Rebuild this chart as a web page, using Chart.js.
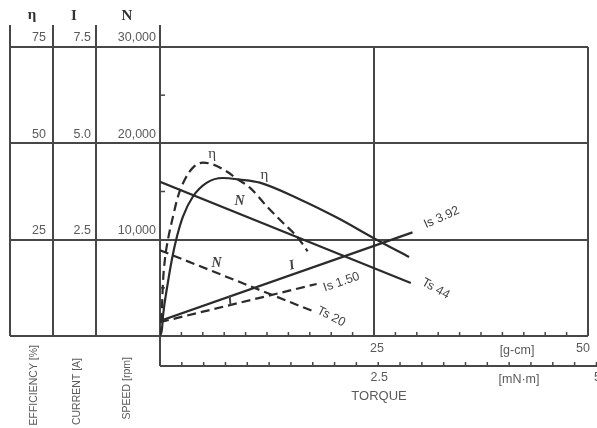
<!DOCTYPE html>
<html>
<head>
<meta charset="utf-8">
<script src="https://cdn.jsdelivr.net/npm/chart.js@4/dist/chart.umd.min.js"></script>
<style>
  html, body { margin: 0; padding: 0; background: #fff; }
</style>
</head>
<body>
<canvas id="chart" width="597" height="428"></canvas>
<script>
// torque in g-cm
const torqueA = [0, 29.3];
const speedA = [16000, 5500];            // rpm, Ts 44
const currentTorqueA = [0, 29.5];
const currentA = [0.39, 2.69];           // A, Is 3.92
const effTorqueA = [0, 0.23, 0.35, 0.93, 1.4, 1.98, 2.68, 3.85, 5.48, 7.34, 9.32, 11.66, 16.3, 20.6, 25.3, 29.1];
const effA = [0, 1.8, 5.2, 14, 20, 25.8, 31, 36.2, 39.8, 41, 40.6, 39.8, 35.5, 30.8, 25, 20.5];

const torqueB = [0, 17.8];
const speedB = [8900, 2600];             // rpm, Ts 20
const currentTorqueB = [0, 18.3];
const currentB = [0.36, 1.35];           // A, Is 1.50
const effTorqueB = [0, 0.23, 0.35, 0.58, 0.93, 1.52, 2.1, 2.9, 3.85, 5.0, 6.2, 7.8, 9.0, 10.5, 12.5, 14.3, 16.0, 17.25];
const effB = [0, 7.8, 14, 20, 25, 31, 36.2, 40.6, 43.7, 45, 44.5, 42.7, 40.8, 38.5, 33.6, 29.5, 25.8, 22];

// tick labels
const effTicks = [25, 50, 75];
const currentTicks = [2.5, 5, 7.5];
const speedTicks = [10000, 20000, 30000];
const gcmTicks = [25, 50];
const mNmTicks = [2.5, 5];

const INK = '#2b2b2b';
const GRID = '#474747';
const TEXT = '#5a5a5a';

function pts(xs, ys) {
  return xs.map((x, i) => ({ x: x, y: ys[i] }));
}

function line(ctx, x1, y1, x2, y2) {
  ctx.beginPath();
  ctx.moveTo(x1, y1);
  ctx.lineTo(x2, y2);
  ctx.stroke();
}

// text placed on the curves (torque g-cm, speed rpm)
const curveLabels = [
  { text: 'η', x: 12.2, y: 16700, font: '15px "Liberation Serif"', angle: 0 },
  { text: 'η', x: 6.1, y: 18900, font: '15px "Liberation Serif"', angle: 0 },
  { text: 'N', x: 9.3, y: 14000, font: 'italic bold 14px "Liberation Serif"', angle: 0 },
  { text: 'N', x: 6.6, y: 7500, font: 'italic bold 14px "Liberation Serif"', angle: 0 },
  { text: 'I', x: 15.4, y: 7300, font: 'italic bold 14px "Liberation Serif"', angle: -15 },
  { text: 'I', x: 8.2, y: 3600, font: 'italic bold 14px "Liberation Serif"', angle: -15 },
  { text: 'Is 3.92', x: 32.9, y: 12300, font: '12.5px "Liberation Sans"', angle: -24 },
  { text: 'Ts 44', x: 32.2, y: 4900, font: '12.5px "Liberation Sans"', angle: 29 },
  { text: 'Is 1.50', x: 21.2, y: 5600, font: '12.5px "Liberation Sans"', angle: -19 },
  { text: 'Ts 20', x: 20.0, y: 2000, font: '12.5px "Liberation Sans"', angle: 27 }
];

const framePlugin = {
  id: 'frame',
  beforeDatasetsDraw(chart) {
    const { ctx, chartArea: a, scales } = chart;
    const xs = scales.x, sp = scales.speed;
    const axis2 = a.bottom + 30;
    ctx.save();
    ctx.strokeStyle = GRID;
    ctx.lineWidth = 2;
    // horizontal grid across the side columns
    [0].concat(speedTicks).forEach(v => {
      const y = Math.round(sp.getPixelForValue(v));
      line(ctx, 10, y, a.right, y);
    });
    // side columns
    [10, 53, 96].forEach(px => line(ctx, px, 25, px, a.bottom));
    line(ctx, a.left, 25, a.left, axis2);
    // vertical grid and right border
    line(ctx, xs.getPixelForValue(25), a.top, xs.getPixelForValue(25), a.bottom);
    line(ctx, a.right, a.top, a.right, a.bottom);
    // second torque axis (mN·m)
    line(ctx, a.left, axis2, 597, axis2);

    ctx.lineWidth = 1.5;
    // small ticks on the g-cm axis every 2.5
    for (let v = 2.5; v < 50; v += 2.5) {
      const px = xs.getPixelForValue(v);
      line(ctx, px, a.bottom, px, a.bottom - 4);
    }
    // small ticks on the mN·m axis every 0.25 (1 mN·m = 10.197 g-cm)
    for (let v = 0.25; v * 10.197 < 51; v += 0.25) {
      const px = xs.getPixelForValue(v * 10.197);
      line(ctx, px, axis2, px, axis2 - 4);
    }
    // small ticks on left edge
    [5000, 15000, 25000].forEach(v => {
      const y = sp.getPixelForValue(v);
      line(ctx, a.left, y, a.left + 5, y);
    });

    // headers
    ctx.fillStyle = '#333';
    ctx.font = 'bold 15px "Liberation Serif"';
    ctx.textAlign = 'center';
    ctx.textBaseline = 'middle';
    ctx.fillText('η', 32, 15);
    ctx.fillText('I', 74, 16);
    ctx.fillText('N', 127, 16);

    // side tick labels
    ctx.fillStyle = TEXT;
    ctx.font = '12.5px "Liberation Sans"';
    ctx.textAlign = 'right';
    ctx.textBaseline = 'bottom';
    speedTicks.forEach((v, i) => {
      const y = sp.getPixelForValue(v) - 3;
      ctx.fillText(String(effTicks[i]), 46, y);
      ctx.fillText(currentTicks[i].toFixed(1), 91, y);
      ctx.fillText(v.toLocaleString('en-US'), 156, y);
    });

    // torque labels
    ctx.textAlign = 'center';
    ctx.textBaseline = 'middle';
    gcmTicks.forEach(v => ctx.fillText(String(v), xs.getPixelForValue(v) + (v === 50 ? -5 : 3), a.bottom + 13));
    mNmTicks.forEach(v => ctx.fillText(String(v), xs.getPixelForValue(v * 10.197) + 1, axis2 + 12));
    ctx.fillText('[g-cm]', 517, a.bottom + 15);
    ctx.fillText('[mN·m]', 519, axis2 + 14);
    ctx.font = '13px "Liberation Sans"';
    ctx.fillText('TORQUE', 379, axis2 + 30);

    // rotated axis titles
    ctx.font = '10.5px "Liberation Sans"';
    ctx.textAlign = 'right';
    [['EFFICIENCY [%]', 34, 345], ['CURRENT [A]', 77, 358], ['SPEED [rpm]', 127, 357]].forEach(t => {
      ctx.save();
      ctx.translate(t[1], t[2]);
      ctx.rotate(-Math.PI / 2);
      ctx.fillText(t[0], 0, 0);
      ctx.restore();
    });
    ctx.restore();
  },
  afterDatasetsDraw(chart) {
    const { ctx, scales } = chart;
    ctx.save();
    ctx.fillStyle = '#444';
    ctx.textAlign = 'center';
    ctx.textBaseline = 'middle';
    curveLabels.forEach(l => {
      ctx.save();
      ctx.translate(scales.x.getPixelForValue(l.x), scales.speed.getPixelForValue(l.y));
      ctx.rotate(l.angle * Math.PI / 180);
      ctx.font = l.font;
      ctx.fillText(l.text, 0, 0);
      ctx.restore();
    });
    ctx.restore();
  }
};

const solid = { borderColor: INK, borderWidth: 2.2, pointRadius: 0, fill: false };
const dashed = Object.assign({}, solid, { borderDash: [9, 5] });

new Chart(document.getElementById('chart'), {
  type: 'line',
  data: {
    datasets: [
      Object.assign({ data: pts(torqueA, speedA), yAxisID: 'speed' }, solid),
      Object.assign({ data: pts(currentTorqueA, currentA), yAxisID: 'cur' }, solid),
      Object.assign({ data: pts(effTorqueA, effA), yAxisID: 'eff', cubicInterpolationMode: 'monotone' }, solid),
      Object.assign({ data: pts(torqueB, speedB), yAxisID: 'speed' }, dashed),
      Object.assign({ data: pts(currentTorqueB, currentB), yAxisID: 'cur' }, dashed),
      Object.assign({ data: pts(effTorqueB, effB), yAxisID: 'eff', cubicInterpolationMode: 'monotone' }, dashed)
    ]
  },
  options: {
    responsive: false,
    animation: false,
    layout: { padding: { left: 160, right: 9, top: 47, bottom: 92 } },
    plugins: { legend: { display: false }, tooltip: { enabled: false } },
    scales: {
      x: { type: 'linear', min: 0, max: 50, display: false },
      speed: { axis: 'y', type: 'linear', min: 0, max: 30000, display: false },
      eff: { axis: 'y', type: 'linear', min: 0, max: 75, display: false },
      cur: { axis: 'y', type: 'linear', min: 0, max: 7.5, display: false }
    }
  },
  plugins: [framePlugin]
});
</script>
</body>
</html>
